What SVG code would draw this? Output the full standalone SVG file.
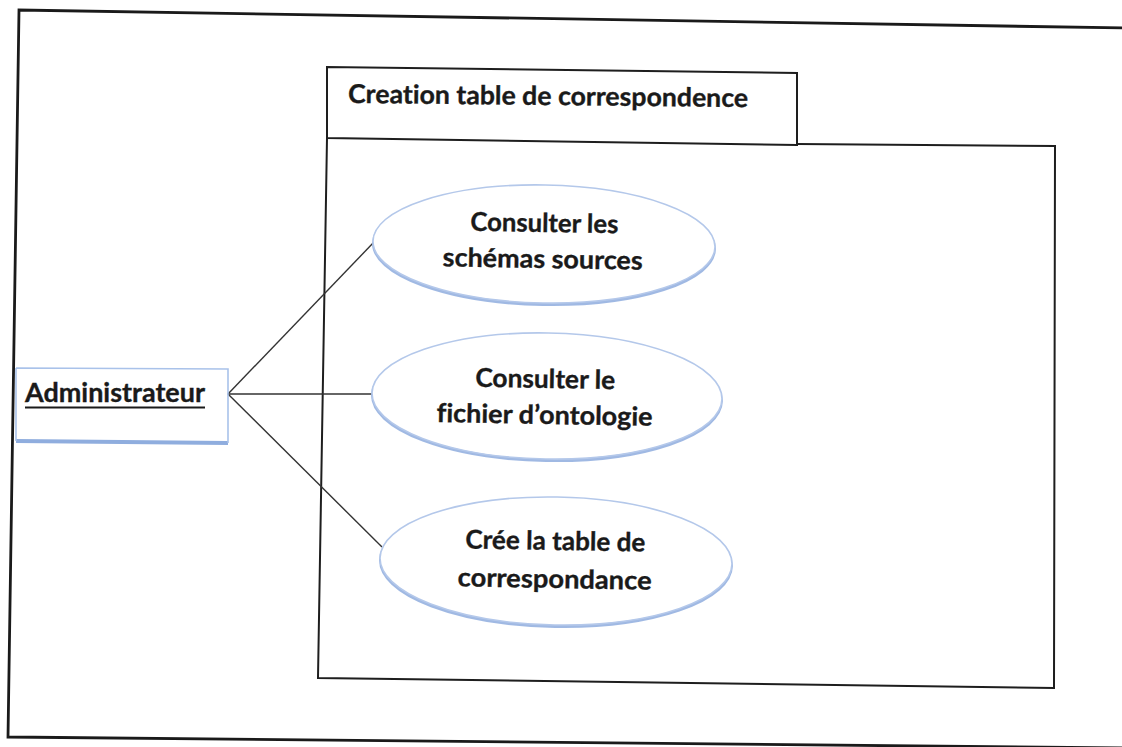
<svg xmlns="http://www.w3.org/2000/svg" width="1122" height="747" viewBox="0 0 1122 747">
  <style>
    .frame { fill: none; stroke: #1a1a1a; stroke-width: 2.8; stroke-linejoin: miter; }
    .box { fill: none; stroke: #1e1e1e; stroke-width: 2; }
    .lbl { font-family: Lato, "Liberation Sans", sans-serif; font-weight: 700; font-size: 26px; fill: #1a1a1a; stroke: #1a1a1a; stroke-width: 0.35; font-variant-ligatures: none; }
    .mid { text-anchor: middle; }
    .uc-shadow { fill: none; stroke: #8fadde; stroke-width: 4; opacity: 0.85; }
    .uc { fill: #ffffff; stroke: #b4c8ea; stroke-width: 1.6; }
    .link { stroke: #333333; stroke-width: 1.4; fill: none; }
  </style>

  <rect width="1122" height="747" fill="#ffffff"/>

  <!-- outer sheet border -->
  <path class="frame" d="M1124,28 L19,10 L8,737 L1124,748"/>

  <!-- system boundary -->
  <g id="system">
    <path class="box" d="M327,138 L318,678 L1054,688 L1055,146 L797,144"/>
    <path class="box" d="M327,138 L327,67 L797,73 L797,145 L327,138 Z"/>
    <text class="lbl" x="348" y="105" textLength="400" lengthAdjust="spacingAndGlyphs" transform="rotate(0.6 548 105)">Creation table de correspondence</text>
  </g>

  <!-- associations -->
  <g id="connectors">
    <line class="link" x1="228" y1="394" x2="375" y2="241"/>
    <line class="link" x1="228" y1="394" x2="372" y2="394"/>
    <line class="link" x1="228" y1="394" x2="382" y2="547"/>
  </g>

  <!-- actor -->
  <g id="actor-administrateur">
    <path d="M16,441 L228,443" stroke="#8fadde" stroke-width="4" fill="none"/>
    <path d="M16,368 L228,369 L228,443 M16,368 L16,441" stroke="#a9c2ea" stroke-width="1.6" fill="none"/>
    <text class="lbl" x="25" y="402" textLength="180" lengthAdjust="spacingAndGlyphs">Administrateur</text>
    <line x1="25" y1="407.5" x2="205" y2="407.5" stroke="#1a1a1a" stroke-width="2"/>
  </g>

  <!-- use cases -->
  <g id="uc-consulter-schemas" transform="rotate(1 544 244)">
    <ellipse class="uc-shadow" cx="544" cy="246" rx="170" ry="58"/>
    <ellipse class="uc" cx="544" cy="244" rx="171" ry="59"/>
    <text class="lbl mid" x="544" y="232" textLength="148" lengthAdjust="spacingAndGlyphs">Consulter les</text>
    <text class="lbl mid" x="543" y="268" textLength="200" lengthAdjust="spacingAndGlyphs">schémas sources</text>
  </g>

  <g id="uc-consulter-ontologie" transform="rotate(1 547 396)">
    <ellipse class="uc-shadow" cx="547" cy="398" rx="174" ry="62"/>
    <ellipse class="uc" cx="547" cy="396" rx="175" ry="63"/>
    <text class="lbl mid" x="545" y="388" textLength="140" lengthAdjust="spacingAndGlyphs">Consulter le</text>
    <text class="lbl mid" x="545" y="424" textLength="216" lengthAdjust="spacingAndGlyphs">fichier d’ontologie</text>
  </g>

  <g id="uc-creer-table" transform="rotate(1 556 561)">
    <ellipse class="uc-shadow" cx="556" cy="563" rx="175" ry="63"/>
    <ellipse class="uc" cx="556" cy="561" rx="176" ry="64"/>
    <text class="lbl mid" x="555" y="550" textLength="180" lengthAdjust="spacingAndGlyphs">Crée la table de</text>
    <text class="lbl mid" x="555" y="588" textLength="194" lengthAdjust="spacingAndGlyphs">correspondance</text>
  </g>
</svg>
